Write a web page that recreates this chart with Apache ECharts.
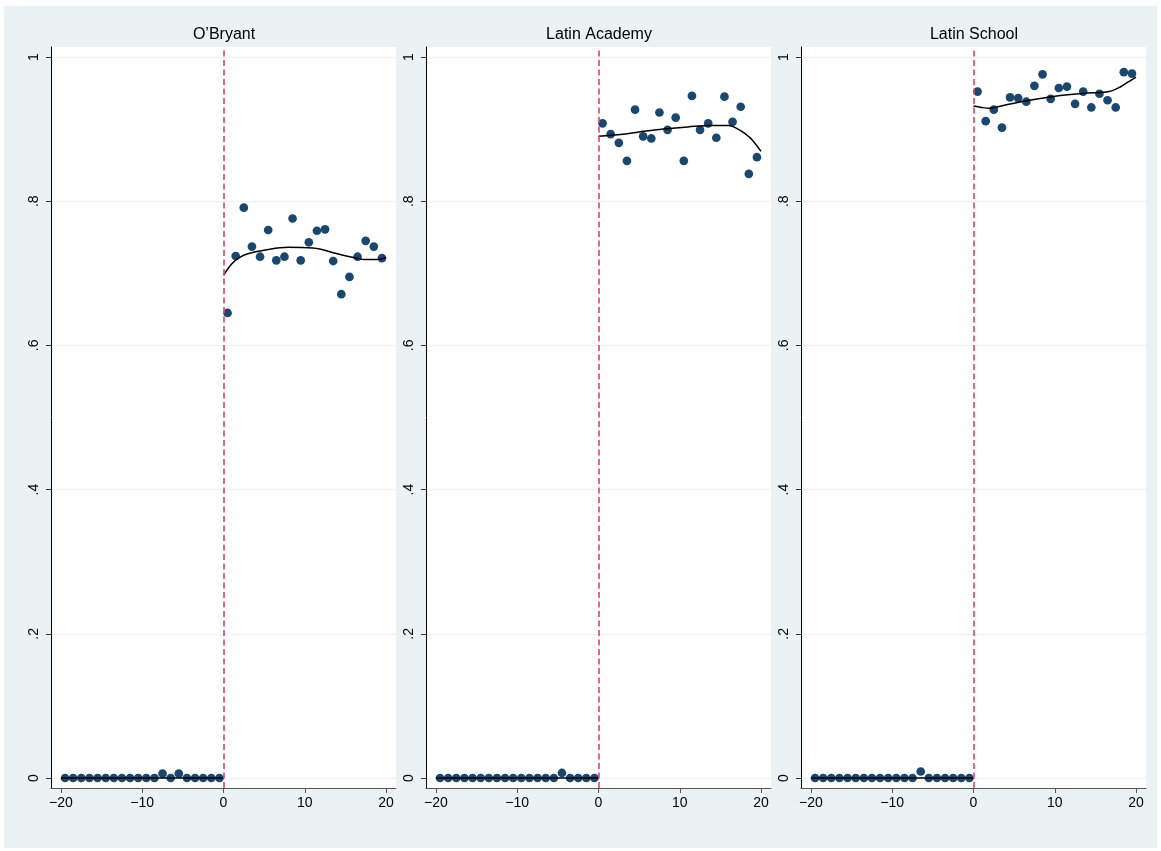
<!DOCTYPE html>
<html><head><meta charset="utf-8">
<script src="https://cdn.jsdelivr.net/npm/echarts@6/dist/echarts.min.js"></script>
<style>
html,body{margin:0;padding:0;background:#fff;}
#bg{position:absolute;left:4px;top:6px;width:1153px;height:842px;background:#EAF2F3;}
#c{position:absolute;left:0;top:0;width:1161px;height:851px;}
</style>
</head><body>
<div id="bg"></div>
<div id="c"></div>
<script>
// ---------- data ----------
const panelTitles = ['O\u2019Bryant', 'Latin Academy', 'Latin School'];
const xNeg = [-19.5,-18.5,-17.5,-16.5,-15.5,-14.5,-13.5,-12.5,-11.5,-10.5,-9.5,-8.5,-7.5,-6.5,-5.5,-4.5,-3.5,-2.5,-1.5,-0.5];
const xPos = [0.5,1.5,2.5,3.5,4.5,5.5,6.5,7.5,8.5,9.5,10.5,11.5,12.5,13.5,14.5,15.5,16.5,17.5,18.5,19.5];

const obryantNeg = [0,0,0,0,0,0,0,0,0,0,0,0,0.006,0,0.006,0,0,0,0,0];
const obryantPos = [0.645,0.724,0.791,0.737,0.723,0.760,0.718,0.723,0.776,0.718,0.743,0.759,0.761,0.717,0.671,0.695,0.723,0.745,0.737,0.721];
const academyNeg = [0,0,0,0,0,0,0,0,0,0,0,0,0,0,0,0.007,0,0,0,0];
const academyPos = [0.908,0.893,0.881,0.856,0.927,0.890,0.887,0.923,0.899,0.916,0.856,0.946,0.899,0.908,0.888,0.945,0.910,0.931,0.838,0.861];
const schoolNeg = [0,0,0,0,0,0,0,0,0,0,0,0,0,0.009,0,0,0,0,0,0];
const schoolPos = [0.952,0.911,0.927,0.902,0.944,0.943,0.938,0.960,0.976,0.942,0.957,0.959,0.935,0.952,0.930,0.949,0.940,0.930,0.979,0.977];

// fitted curves
const fitNegX = [-20, 0];
const fitNegY = [0, 0];
const obryantFitX = [0,1,2,3,5,8,11,14,16,17.5,19,20];
const obryantFitY = [0.697,0.713,0.722,0.727,0.732,0.736,0.735,0.727,0.722,0.719,0.719,0.722];
const academyFitX = [0,3,5,8,11,14,16,17,18,19,20];
const academyFitY = [0.890,0.893,0.896,0.900,0.903,0.905,0.905,0.901,0.894,0.884,0.869];
const schoolFitX = [0,1,2,3,5,8,11,14,16,17,18,19,20];
const schoolFitY = [0.932,0.930,0.929,0.931,0.936,0.942,0.947,0.950,0.951,0.953,0.958,0.965,0.972];

const xTicks = [-20,-10,0,10,20];
const yTicks = [0,0.2,0.4,0.6,0.8,1];
const yTickLabels = ['0','.2','.4','.6','.8','1'];

const panels = [
  {neg: obryantNeg, pos: obryantPos, fx: obryantFitX, fy: obryantFitY},
  {neg: academyNeg, pos: academyPos, fx: academyFitX, fy: academyFitY},
  {neg: schoolNeg, pos: schoolPos, fx: schoolFitX, fy: schoolFitY}
];

// ---------- chart ----------
const FONT = '"Liberation Sans", Arial, Helvetica, sans-serif';
const DOT = '#1A476F';
const zip = (xs, ys) => xs.map((x, i) => [x, ys[i]]);

const grids = [], xAxes = [], yAxes = [], graphics = [], series = [];
panels.forEach((p, i) => {
  const left = 51 + 375 * i;
  grids.push({left: left, top: 47, width: 345, height: 741, show: true,
    backgroundColor: '#ffffff', borderWidth: 0, containLabel: false});
  graphics.push({type: 'text', x: left + 173, y: 35, silent: true,
    style: {text: panelTitles[i], align: 'center', verticalAlign: 'middle',
      font: '16px ' + FONT, fill: '#000'}});
  xAxes.push({type: 'value', gridIndex: i, min: -21.23, max: 21.23,
    axisLine: {show: true, onZero: false, lineStyle: {color: '#555', width: 1}},
    axisTick: {show: true, length: 5, customValues: xTicks, lineStyle: {color: '#555'}},
    axisLabel: {customValues: xTicks, margin: 8, color: '#000', fontFamily: FONT, fontSize: 14,
      formatter: v => String(v).replace('-', '\u2212')},
    splitLine: {show: false}});
  yAxes.push({type: 'value', gridIndex: i, min: -0.01387, max: 1.01387,
    axisLine: {show: true, onZero: false, lineStyle: {color: '#000', width: 1}},
    axisTick: {show: true, length: 5, customValues: yTicks, lineStyle: {color: '#333'}},
    axisLabel: {customValues: yTicks, rotate: 90, margin: 10, color: '#000', fontFamily: FONT, fontSize: 14,
      formatter: v => yTickLabels[yTicks.findIndex(t => Math.abs(t - v) < 1e-6)] ?? ''},
    splitLine: {show: true, lineStyle: {color: '#EAF2F3', width: 1}}});
  series.push({type: 'scatter', xAxisIndex: i, yAxisIndex: i, data: zip(xNeg, p.neg),
    symbolSize: 8.7, itemStyle: {color: DOT, opacity: 1}, z: 3, silent: true});
  series.push({type: 'scatter', xAxisIndex: i, yAxisIndex: i, data: zip(xPos, p.pos),
    symbolSize: 8.7, itemStyle: {color: DOT, opacity: 1}, z: 3, silent: true});
  series.push({type: 'line', xAxisIndex: i, yAxisIndex: i, data: zip(fitNegX, fitNegY),
    showSymbol: false, symbol: 'none', lineStyle: {color: '#000', width: 1.5}, z: 4, silent: true});
  series.push({type: 'line', xAxisIndex: i, yAxisIndex: i, data: zip(p.fx, p.fy),
    showSymbol: false, symbol: 'none', smooth: 0.4, lineStyle: {color: '#000', width: 1.5}, z: 4, silent: true,
    markLine: {silent: true, symbol: 'none', label: {show: false}, animation: false,
      lineStyle: {color: '#D9456B', width: 1.6, type: [6, 3.5]},
      data: [{xAxis: 0}]}});
});

const chart = echarts.init(document.getElementById('c'), null, {renderer: 'canvas'});
chart.setOption({
  animation: false,
  backgroundColor: 'transparent',
  graphic: graphics,
  grid: grids,
  xAxis: xAxes,
  yAxis: yAxes,
  series: series
});
</script>
</body></html>
